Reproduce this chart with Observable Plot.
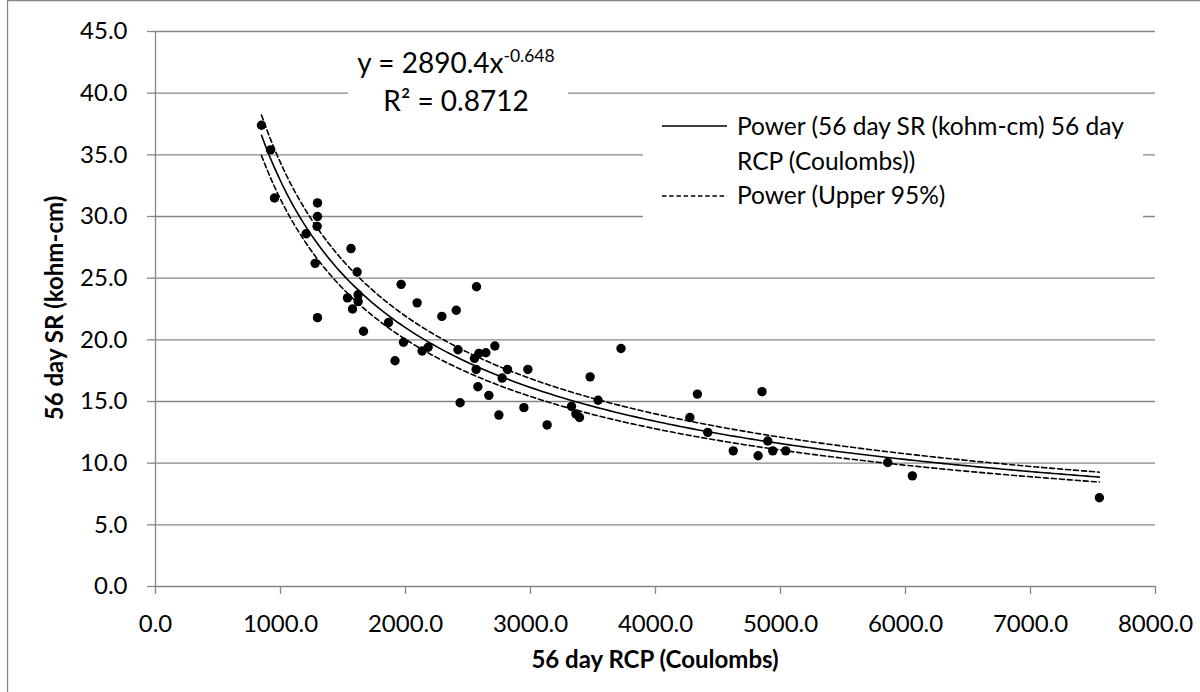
<!DOCTYPE html>
<html><head><meta charset="utf-8">
<script src="https://cdn.jsdelivr.net/npm/d3@7"></script>
<script src="https://cdn.jsdelivr.net/npm/@observablehq/plot@0.6"></script>
<style>
html,body{margin:0;padding:0;background:#fff;}
#chart{position:relative;width:1200px;height:692px;overflow:hidden;}
</style></head><body><div id="chart"></div>
<script>
// 56 day RCP (Coulombs)
const rcp = [848, 920, 952, 1296, 1296, 1293, 1205, 1564, 1277, 1613,
  1965, 1621, 1536, 1621, 2093, 1576, 2406, 2291, 1296, 1864,
  1664, 1984, 2181, 2133, 2420, 1916, 2568, 2715, 2643, 2587,
  2552, 3724, 2565, 2816, 2979, 2773, 3477, 2579, 2667, 3541,
  2437, 2947, 3328, 3363, 3392, 2747, 3133, 4335, 4852, 4275,
  4418, 4898, 4622, 4821, 4938, 5042, 5858, 6055, 7551];
// 56 day SR (kohm-cm)
const sr = [37.4, 35.4, 31.5, 31.1, 30.0, 29.2, 28.6, 27.4, 26.2, 25.5,
  24.5, 23.65, 23.4, 23.1, 23.0, 22.5, 22.4, 21.9, 21.8, 21.4,
  20.7, 19.8, 19.4, 19.1, 19.2, 18.3, 24.3, 19.5, 18.95, 18.9,
  18.5, 19.3, 17.6, 17.6, 17.6, 16.9, 17.0, 16.2, 15.5, 15.1,
  14.9, 14.5, 14.6, 14.0, 13.7, 13.9, 13.1, 15.6, 15.8, 13.7,
  12.5, 11.8, 11.0, 10.6, 11.0, 11.0, 10.05, 8.97, 7.2];
const xTicks = [0, 1000, 2000, 3000, 4000, 5000, 6000, 7000, 8000];
const yTicks = [0, 5, 10, 15, 20, 25, 30, 35, 40, 45];
// Power trendline y = a * x^b (from the chart's equation) and its 95% band
const fitA = 2890.4, fitB = -0.648, fitR2 = "0.8712";
const upperA = 3020, lowerA = 2760;
const legendLabels = ["Power (56 day SR (kohm-cm) 56 day", "RCP (Coulombs))", "Power (Upper 95%)"];
const xTitle = "56 day RCP (Coulombs)";
const yTitle = "56 day SR (kohm-cm)";

const points = rcp.map((x, i) => ({x, y: sr[i]}));
const xMin = d3.min(rcp), xMax = d3.max(rcp);
const xs = d3.range(0, 201).map(i => xMin + (xMax - xMin) * i / 200);
const curve = a => xs.map(x => ({x, y: a * Math.pow(x, fitB)}));
const fit = curve(fitA), upper = curve(upperA), lower = curve(lowerA);

const GRID = "#868686";
const FONT = "Lato, 'Open Sans', sans-serif";

const svg = Plot.plot({
  width: 1200, height: 692,
  marginLeft: 155, marginRight: 45, marginTop: 31, marginBottom: 106,
  style: {fontFamily: FONT, background: "white", color: "black"},
  x: {domain: [0, 8000], label: null},
  y: {domain: [0, 45], label: null},
  marks: [
    Plot.gridY(yTicks, {stroke: GRID, strokeOpacity: 1, strokeWidth: 1.3}),
    Plot.ruleX([0], {stroke: GRID, strokeWidth: 1.3}),
    Plot.axisX(xTicks, {tickSize: 8, tickPadding: 20, stroke: GRID, strokeWidth: 1.3, fill: "black", fontSize: 24, tickFormat: d3.format(".1f"), label: null}),
    Plot.axisY(yTicks, {tickSize: 8, tickPadding: 20, stroke: GRID, strokeWidth: 1.3, fill: "black", fontSize: 24, tickFormat: d3.format(".1f"), label: null}),
    Plot.line(upper, {x: "x", y: "y", stroke: "black", strokeWidth: 1.6, strokeDasharray: "5,3"}),
    Plot.line(lower, {x: "x", y: "y", stroke: "black", strokeWidth: 1.6, strokeDasharray: "5,3"}),
    Plot.line(fit, {x: "x", y: "y", stroke: "black", strokeWidth: 1.6}),
    Plot.dot(points, {x: "x", y: "y", r: 4.7, fill: "black", stroke: "none"})
  ]
});
document.getElementById("chart").appendChild(svg);

const s = d3.select(svg);
// chart-area border
s.append("line").attr("x1", 7.5).attr("x2", 7.5).attr("y1", 0).attr("y2", 692).attr("stroke", GRID).attr("stroke-width", 1.3);
s.append("line").attr("x1", 7).attr("x2", 1200).attr("y1", 0.7).attr("y2", 0.7).attr("stroke", GRID).attr("stroke-width", 1.3);

// axis titles
s.append("text").attr("x", 655).attr("y", 660).attr("dy", "0.35em").attr("text-anchor", "middle")
  .attr("font-family", FONT).attr("font-size", 24).attr("font-weight", "bold").text(xTitle);
s.append("text").attr("transform", "translate(55,308) rotate(-90)").attr("dy", "0.35em").attr("text-anchor", "middle")
  .attr("font-family", FONT).attr("font-size", 24).attr("font-weight", "bold").text(yTitle);

// trendline equation box
const eq = s.append("g").attr("font-family", FONT).attr("fill", "black");
eq.append("rect").attr("x", 348).attr("y", 40).attr("width", 220).attr("height", 82).attr("fill", "white");
const t1 = eq.append("text").attr("x", 456).attr("y", 73).attr("text-anchor", "middle").attr("font-size", 28);
t1.append("tspan").text(`y = ${fitA}x`);
t1.append("tspan").attr("font-size", 17.5).attr("dy", -11).text(`${fitB}`);
eq.append("text").attr("x", 456).attr("y", 111).attr("text-anchor", "middle").attr("font-size", 28).text(`R² = ${fitR2}`);

// legend
const lg = s.append("g").attr("font-family", FONT).attr("font-size", 24.5).attr("fill", "black").attr("text-anchor", "start");
lg.append("rect").attr("x", 643).attr("y", 100).attr("width", 500).attr("height", 122).attr("fill", "white");
lg.append("line").attr("x1", 662).attr("x2", 727).attr("y1", 126).attr("y2", 126).attr("stroke", "black").attr("stroke-width", 1.6);
lg.append("line").attr("x1", 662).attr("x2", 727).attr("y1", 196).attr("y2", 196).attr("stroke", "black").attr("stroke-width", 1.6).attr("stroke-dasharray", "4.5,2.7");
[126.7, 161.7, 195.5].forEach((y, i) => {
  lg.append("text").attr("x", 737).attr("y", y).attr("dy", "0.35em").attr("text-anchor", "start").text(legendLabels[i]);
});
</script></body></html>
